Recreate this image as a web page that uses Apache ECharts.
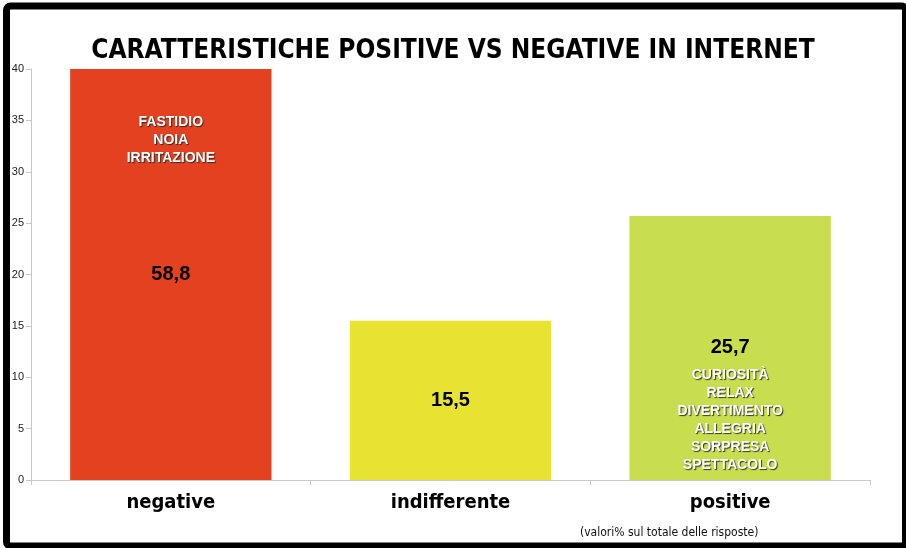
<!DOCTYPE html>
<html>
<head>
<meta charset="utf-8">
<title>Caratteristiche positive vs negative in Internet</title>
<script src="https://cdn.jsdelivr.net/npm/echarts@6/dist/echarts.min.js"></script>
<style>
  html, body { margin: 0; padding: 0; background: #ffffff; }
  #chart { width: 906px; height: 548px; }
</style>
</head>
<body>
<div id="chart"></div>
<script>
// Categories and percentages (share of all answers)
var categories = ['negative', 'indifferente', 'positive'];
var values = [58.8, 15.5, 25.7];
var barColors = ['#E44120', '#E8E232', '#C8DE4E'];
// Words describing each group, printed inside the bars
var words = [
  ['FASTIDIO', 'NOIA', 'IRRITAZIONE'],
  [],
  ['CURIOSITÀ', 'RELAX', 'DIVERTIMENTO', 'ALLEGRIA', 'SORPRESA', 'SPETTACOLO']
];
var yTicks = { min: 0, max: 40, interval: 5 };

var chart = echarts.init(document.getElementById('chart'), null, { renderer: 'canvas' });

var narrow = '"Liberation Sans Narrow", "DejaVu Sans Condensed", "Liberation Sans", sans-serif';

var wordLabelStyle = {
  show: true,
  color: '#ffffff',
  fontFamily: '"Liberation Sans", Arial, sans-serif',
  fontWeight: 'bold',
  fontSize: 14,
  lineHeight: 18,
  align: 'center',
  textShadowColor: 'rgba(40,40,40,0.9)',
  textShadowBlur: 1,
  textShadowOffsetX: 1,
  textShadowOffsetY: 1,
  formatter: function (p) { return words[p.dataIndex].join('\n'); }
};

var option = {
  backgroundColor: '#ffffff',
  animation: false,
  title: [{
    text: 'CARATTERISTICHE POSITIVE VS NEGATIVE IN INTERNET',
    left: 'center',
    top: 33,
    textStyle: { fontFamily: narrow, fontWeight: 'bold', fontSize: 26, color: '#000000' }
  }, {
    text: '(valori% sul totale delle risposte)',
    left: 575,
    top: 522,
    textStyle: { fontFamily: narrow, fontWeight: 'normal', fontSize: 12, color: '#111111' }
  }],
  grid: { left: 31, right: 36, top: 69, bottom: 68, containLabel: false },
  xAxis: {
    type: 'category',
    data: categories,
    axisLine: { lineStyle: { color: '#c8c8c8', width: 1 } },
    axisTick: { show: true, length: 5, lineStyle: { color: '#c8c8c8' } },
    axisLabel: {
      margin: 13,
      color: '#000000',
      fontFamily: narrow,
      fontWeight: 'bold',
      fontSize: 20
    }
  },
  yAxis: {
    type: 'value',
    min: yTicks.min,
    max: yTicks.max,
    interval: yTicks.interval,
    splitLine: { show: false },
    axisLine: { show: true, lineStyle: { color: '#c8c8c8', width: 1 } },
    axisTick: { show: true, length: 5, lineStyle: { color: '#c8c8c8' } },
    axisLabel: {
      margin: 7,
      color: '#222222',
      fontFamily: '"Liberation Sans", Arial, sans-serif',
      fontSize: 11
    }
  },
  series: [{
    name: 'valori',
    type: 'bar',
    barWidth: '72%',
    clip: true,
    data: values.map(function (v, i) {
      return { value: v, itemStyle: { color: barColors[i] } };
    }),
    label: {
      show: true,
      position: 'inside',
      color: '#000000',
      fontFamily: '"Liberation Sans", Arial, sans-serif',
      fontWeight: 'bold',
      fontSize: 20,
      formatter: function (p) { return String(p.value).replace('.', ','); }
    }
  }, {
    name: 'parole',
    type: 'bar',
    barWidth: '72%',
    barGap: '-100%',
    clip: true,
    silent: true,
    itemStyle: { color: 'rgba(0,0,0,0)' },
    data: values.map(function (v, i) {
      var lbl = Object.assign({}, wordLabelStyle);
      if (i === 0) { lbl.position = 'insideTop'; lbl.distance = 44; }
      else { lbl.position = 'insideBottom'; lbl.distance = 6; }
      return { value: v, label: lbl };
    })
  }],
  graphic: [{
    type: 'rect',
    silent: true,
    z: 100,
    shape: { x: 6.5, y: 6, width: 899, height: 540, r: 4 },
    style: { fill: 'none', stroke: '#000000', lineWidth: 7 }
  }]
};

chart.setOption(option);
</script>
</body>
</html>
